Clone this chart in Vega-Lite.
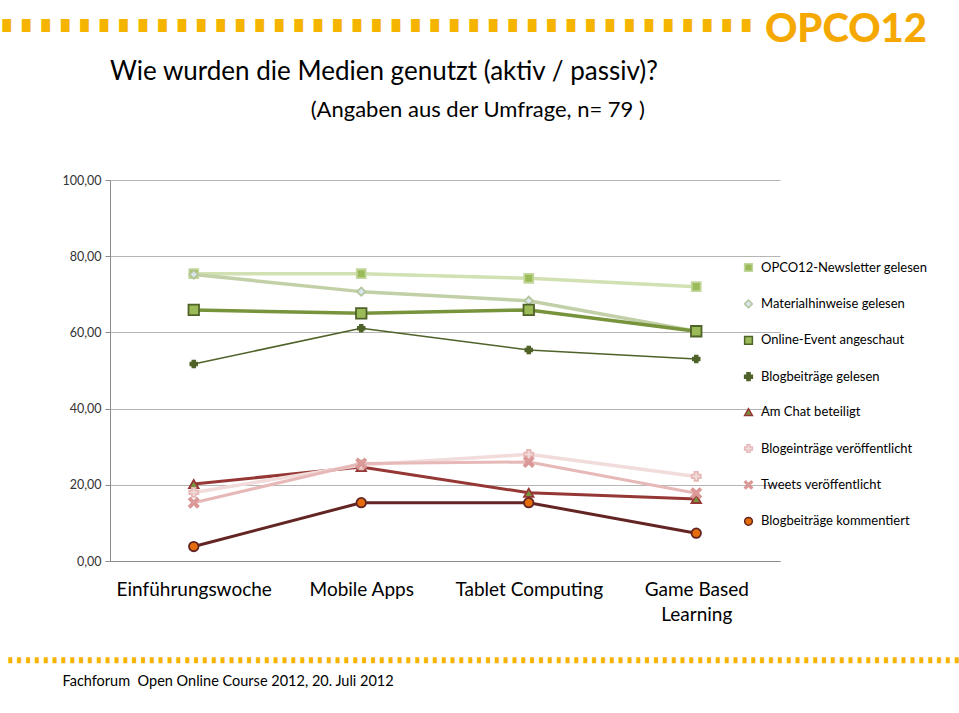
{
  "$schema": "https://vega.github.io/schema/vega-lite/v6.json",
  "width": 670,
  "height": 381,
  "autosize": {"type": "none"},
  "padding": {"left": 110, "top": 180, "right": 179, "bottom": 152},
  "background": "white",
  "title": {
    "text": "Wie wurden die Medien genutzt (aktiv / passiv)?",
    "subtitle": "\u200b\u2003\u2003\u2003\u2003\u2003\u2003\u2003\u2003\u2003\u2003\u2003\u2003\u2009(Angaben aus der Umfrage, n= 79 )",
    "anchor": "start",
    "frame": "group",
    "font": "Lato",
    "fontSize": 26,
    "fontWeight": "normal",
    "color": "#000000",
    "subtitleFont": "Lato",
    "subtitleFontSize": 22,
    "subtitleColor": "#000000",
    "subtitlePadding": 15,
    "offset": -111
  },
  "data": {
    "values": [
      {"series": "OPCO12-Newsletter gelesen", "cat": "Einführungswoche", "value": 75.4},
      {"series": "OPCO12-Newsletter gelesen", "cat": "Mobile Apps", "value": 75.4},
      {"series": "OPCO12-Newsletter gelesen", "cat": "Tablet Computing", "value": 74.2},
      {"series": "OPCO12-Newsletter gelesen", "cat": "Game Based Learning", "value": 72.0},
      {"series": "Materialhinweise gelesen", "cat": "Einführungswoche", "value": 75.2},
      {"series": "Materialhinweise gelesen", "cat": "Mobile Apps", "value": 70.7},
      {"series": "Materialhinweise gelesen", "cat": "Tablet Computing", "value": 68.3},
      {"series": "Materialhinweise gelesen", "cat": "Game Based Learning", "value": 60.3},
      {"series": "Online-Event angeschaut", "cat": "Einführungswoche", "value": 65.9},
      {"series": "Online-Event angeschaut", "cat": "Mobile Apps", "value": 65.0},
      {"series": "Online-Event angeschaut", "cat": "Tablet Computing", "value": 65.9},
      {"series": "Online-Event angeschaut", "cat": "Game Based Learning", "value": 60.3},
      {"series": "Blogbeiträge gelesen", "cat": "Einführungswoche", "value": 51.7},
      {"series": "Blogbeiträge gelesen", "cat": "Mobile Apps", "value": 61.1},
      {"series": "Blogbeiträge gelesen", "cat": "Tablet Computing", "value": 55.4},
      {"series": "Blogbeiträge gelesen", "cat": "Game Based Learning", "value": 53.0},
      {"series": "Am Chat beteiligt", "cat": "Einführungswoche", "value": 20.2},
      {"series": "Am Chat beteiligt", "cat": "Mobile Apps", "value": 24.7},
      {"series": "Am Chat beteiligt", "cat": "Tablet Computing", "value": 17.9},
      {"series": "Am Chat beteiligt", "cat": "Game Based Learning", "value": 16.3},
      {"series": "Blogeinträge veröffentlicht", "cat": "Einführungswoche", "value": 18.0},
      {"series": "Blogeinträge veröffentlicht", "cat": "Mobile Apps", "value": 25.2},
      {"series": "Blogeinträge veröffentlicht", "cat": "Tablet Computing", "value": 28.0},
      {"series": "Blogeinträge veröffentlicht", "cat": "Game Based Learning", "value": 22.2},
      {"series": "Tweets veröffentlicht", "cat": "Einführungswoche", "value": 15.3},
      {"series": "Tweets veröffentlicht", "cat": "Mobile Apps", "value": 25.6},
      {"series": "Tweets veröffentlicht", "cat": "Tablet Computing", "value": 26.0},
      {"series": "Tweets veröffentlicht", "cat": "Game Based Learning", "value": 17.8},
      {"series": "Blogbeiträge kommentiert", "cat": "Einführungswoche", "value": 3.8},
      {"series": "Blogbeiträge kommentiert", "cat": "Mobile Apps", "value": 15.3},
      {"series": "Blogbeiträge kommentiert", "cat": "Tablet Computing", "value": 15.3},
      {"series": "Blogbeiträge kommentiert", "cat": "Game Based Learning", "value": 7.3}
    ]
  },
  "encoding": {
    "x": {
      "field": "cat",
      "type": "ordinal",
      "sort": ["Einführungswoche", "Mobile Apps", "Tablet Computing", "Game Based Learning"],
      "scale": {"type": "point", "padding": 0.5},
      "axis": {
        "labelExpr": "datum.label == 'Game Based Learning' ? ['Game Based', 'Learning'] : datum.label",
        "labelFont": "Lato",
        "labelFontSize": 19,
        "labelColor": "#000000",
        "labelPadding": 19,
        "labelAngle": 0,
        "labelLineHeight": 25,
        "ticks": false,
        "grid": false,
        "domainColor": "#8c8c8c",
        "title": "Fachforum\u00a0 Open Online Course 2012, 20. Juli 2012",
        "titleX": -48,
        "titleY": 120,
        "titleAlign": "left",
        "titleAnchor": "start",
        "titleBaseline": "middle",
        "titleFont": "Lato",
        "titleFontSize": 14.5,
        "titleFontWeight": "normal",
        "titleColor": "#000000"
      }
    }
  },
  "layer": [
    {
      "mark": {"type": "line", "strokeJoin": "round"},
      "encoding": {
        "y": {
          "field": "value",
          "type": "quantitative",
          "scale": {"domain": [0, 100], "nice": false},
          "axis": {
            "values": [0, 20, 40, 60, 80, 100],
            "labelExpr": "replace(format(datum.value, '.2f'), '.', ',')",
            "labelFont": "Lato",
            "labelFontSize": 12.5,
            "labelColor": "#333333",
            "labelPadding": 4,
            "domainColor": "#8c8c8c",
            "tickColor": "#8c8c8c",
            "tickSize": 5,
            "grid": true,
            "gridColor": "#b5b5b5",
            "title": "█\u2003█\u2003█\u2003█\u2003█\u2003█\u2003█\u2003█\u2003█\u2003█\u2003█\u2003█\u2003█\u2003█\u2003█\u2003█\u2003█\u2003█\u2003█\u2003█\u2003█\u2003█\u2003█\u2003█\u2003█\u2003█\u2003█\u2003█\u2003█\u2003█\u2003█\u2003█\u2003█\u2003█\u2003█\u2003█\u2003█\u2003█\u2003█",
            "titleX": -108,
            "titleY": -155,
            "titleAngle": 0,
            "titleAlign": "left",
            "titleBaseline": "middle",
            "titleFont": "DejaVu Sans",
            "titleFontSize": 11,
            "titleFontWeight": "normal",
            "titleColor": "#f5b400",
            "titleLimit": 2000
          }
        },
        "color": {
          "field": "series",
          "type": "nominal",
          "legend": null,
          "scale": {
            "domain": ["Blogbeiträge kommentiert", "Tweets veröffentlicht", "Blogeinträge veröffentlicht", "Am Chat beteiligt", "Blogbeiträge gelesen", "Online-Event angeschaut", "Materialhinweise gelesen", "OPCO12-Newsletter gelesen"],
            "range": ["#632523", "#e6b9b8", "#f2dcdb", "#953735", "#4f6228", "#77933c", "#c2d0a8", "#d2e1b3"]
          }
        },
        "strokeWidth": {
          "field": "series",
          "type": "nominal",
          "legend": null,
          "scale": {
            "type": "ordinal",
            "domain": ["Blogbeiträge kommentiert", "Tweets veröffentlicht", "Blogeinträge veröffentlicht", "Am Chat beteiligt", "Blogbeiträge gelesen", "Online-Event angeschaut", "Materialhinweise gelesen", "OPCO12-Newsletter gelesen"],
            "range": [3, 3, 3.5, 3, 1.5, 3.5, 3.5, 3.5]
          }
        }
      }
    },
    {
      "mark": {"type": "point", "filled": true, "opacity": 1, "strokeWidth": 1.8},
      "encoding": {
        "y": {
          "field": "value",
          "type": "quantitative",
          "scale": {"domain": [0, 100], "nice": false},
          "axis": {
            "orient": "right",
            "labels": false,
            "ticks": false,
            "domain": false,
            "grid": false,
            "title": "█\u2003█\u2003█\u2003█\u2003█\u2003█\u2003█\u2003█\u2003█\u2003█\u2003█\u2003█\u2003█\u2003█\u2003█\u2003█\u2003█\u2003█\u2003█\u2003█\u2003█\u2003█\u2003█\u2003█\u2003█\u2003█\u2003█\u2003█\u2003█\u2003█\u2003█\u2003█\u2003█\u2003█\u2003█\u2003█\u2003█\u2003█\u2003█\u2003█\u2003█\u2003█\u2003█\u2003█\u2003█\u2003█\u2003█\u2003█\u2003█\u2003█\u2003█\u2003█\u2003█\u2003█\u2003█\u2003█\u2003█\u2003█\u2003█\u2003█\u2003█\u2003█\u2003█\u2003█\u2003█\u2003█\u2003█\u2003█\u2003█\u2003█\u2003█\u2003█\u2003█\u2003█\u2003█\u2003█\u2003█\u2003█\u2003█\u2003█\u2003█\u2003█\u2003█\u2003█\u2003█\u2003█\u2003█\u2003█\u2003█\u2003█\u2003█\u2003█\u2003█\u2003█\u2003█\u2003█\u2003█\u2003█\u2003█\u2003█\u2003█\u2003█\u2003█\u2003█\u2003█\u2003█\u2003█\u2003█\u2003█\u2003█\u2003█\u2003█\u2003█\u2003█\u2003█\u2003█\u2003█\u2003█\u2003█\u2003█\u2003█\u2003█\u2003█",
            "titleX": -772,
            "titleY": 479,
            "titleAngle": 0,
            "titleAlign": "left",
            "titleBaseline": "middle",
            "titleFont": "DejaVu Sans",
            "titleFontSize": 5,
            "titleFontWeight": "normal",
            "titleColor": "#f5b400",
            "titleLimit": 2000
          }
        },
        "shape": {
          "field": "series",
          "type": "nominal",
          "legend": {"title": "OPCO12", "orient": "none", "legendX": 632, "legendY": -170},
          "scale": {
            "domain": ["OPCO12-Newsletter gelesen", "Materialhinweise gelesen", "Online-Event angeschaut", "Blogbeiträge gelesen", "Am Chat beteiligt", "Blogeinträge veröffentlicht", "Tweets veröffentlicht", "Blogbeiträge kommentiert"],
            "range": ["square", "diamond", "square", "cross", "triangle-up", "cross", "M-1,-0.7L-0.7,-1L0,-0.3L0.7,-1L1,-0.7L0.3,0L1,0.7L0.7,1L0,0.3L-0.7,1L-1,0.7L-0.3,0Z", "circle"]
          }
        },
        "fill": {
          "field": "series",
          "type": "nominal",
          "legend": {"title": "OPCO12", "orient": "none", "legendX": 632, "legendY": -170},
          "scale": {
            "domain": ["OPCO12-Newsletter gelesen", "Materialhinweise gelesen", "Online-Event angeschaut", "Blogbeiträge gelesen", "Am Chat beteiligt", "Blogeinträge veröffentlicht", "Tweets veröffentlicht", "Blogbeiträge kommentiert"],
            "range": ["#9bbb59", "#dbe5f1", "#9bbb59", "#4f6228", "#77933c", "#f2dcdb", "#e6b9b8", "#e46c0a"]
          }
        },
        "stroke": {
          "field": "series",
          "type": "nominal",
          "legend": {"title": "OPCO12", "orient": "none", "legendX": 632, "legendY": -170},
          "scale": {
            "domain": ["OPCO12-Newsletter gelesen", "Materialhinweise gelesen", "Online-Event angeschaut", "Blogbeiträge gelesen", "Am Chat beteiligt", "Blogeinträge veröffentlicht", "Tweets veröffentlicht", "Blogbeiträge kommentiert"],
            "range": ["#c3d69b", "#b3c69a", "#4f6228", "#4f6228", "#953735", "#e6b9b8", "#d99694", "#632523"]
          }
        },
        "size": {
          "field": "series",
          "type": "nominal",
          "legend": null,
          "scale": {
            "type": "ordinal",
            "domain": ["Blogbeiträge kommentiert", "Tweets veröffentlicht", "Blogeinträge veröffentlicht", "Am Chat beteiligt", "Blogbeiträge gelesen", "Online-Event angeschaut", "Materialhinweise gelesen", "OPCO12-Newsletter gelesen"],
            "range": [90, 90, 80, 90, 45, 110, 70, 80]
          }
        }
      }
    }
  ],
  "resolve": {"scale": {"y": "independent"}, "axis": {"y": "independent"}},
  "config": {
    "view": {"stroke": null},
    "legend": {
      "titleFont": "Lato",
      "titleFontSize": 40,
      "titleFontWeight": 900,
      "titleColor": "#f5a800",
      "titleAnchor": "end",
      "titlePadding": 211,
      "titleLimit": 400,
      "labelFont": "Lato",
      "labelFontSize": 13,
      "labelColor": "#000000",
      "labelLimit": 300,
      "labelOffset": 6,
      "rowPadding": 21.4,
      "symbolSize": 60,
      "symbolStrokeWidth": 1.5
    }
  }
}
